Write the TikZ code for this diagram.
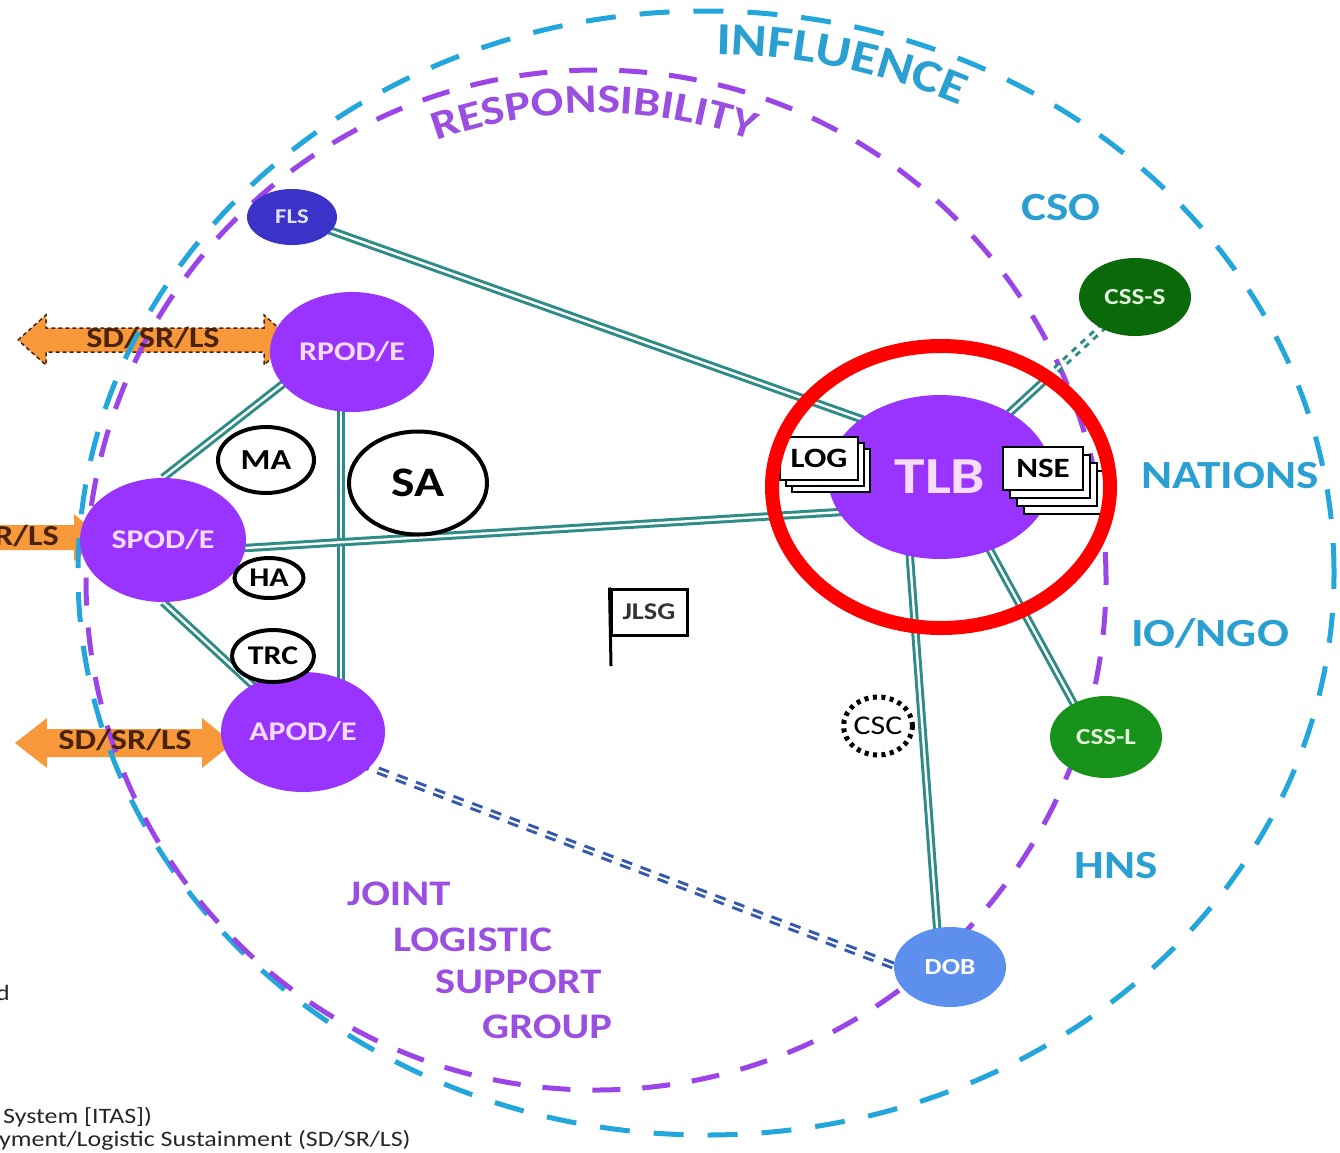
\documentclass[tikz,border=0pt]{standalone}
\usepackage{fontspec}
\setmainfont{Carlito}[FakeStretch=1.18]
\usetikzlibrary{shapes.geometric,decorations.text,calc}
\pgfdeclarelayer{rings}
\pgfdeclarelayer{edges}
\pgfsetlayers{rings,edges,main}
\newcommand{\myfs}[1]{\fontsize{#1}{#1}\selectfont}
\definecolor{cyanring}{HTML}{22A6DC}
\definecolor{purpring}{HTML}{9B45E8}
\definecolor{nodepurp}{HTML}{9933FF}
\definecolor{nodetext}{HTML}{F7DDFB}
\definecolor{teallink}{HTML}{2E8C86}
\definecolor{flsblue}{HTML}{3B32C8}
\definecolor{darkgreentwo}{HTML}{0A6A0A}
\definecolor{greentwo}{HTML}{17921A}
\definecolor{dobblue}{HTML}{5C8FEE}
\definecolor{orangetwo}{HTML}{F7983B}
\definecolor{browntwo}{HTML}{4A2208}
\definecolor{labelcyan}{HTML}{2A9FD2}
\definecolor{labelpurp}{HTML}{9B4FE0}
\definecolor{dashblue}{HTML}{3458B0}
\definecolor{sattext}{HTML}{E6F3DC}
\tikzset{
  hub/.style={ellipse, fill=nodepurp, text=nodetext, font=\myfs{27}\bfseries, inner sep=0pt, minimum width=164, minimum height=120},
  sat/.style={ellipse, fill=#1, text=sattext, font=\myfs{23}\bfseries, inner sep=0pt},
  ringed/.style={ellipse, draw=black, line width=4, fill=white, font=\myfs{29}\bfseries, inner sep=0pt},
  link/.style={draw=teallink, line width=3, double=white, double distance=2.4},
  card/.style={rectangle, draw=black, line width=2, fill=white, inner sep=0pt},
  arrowtext/.style={text=browntwo, font=\myfs{29}\bfseries, inner sep=0pt},
  regionlabel/.style={text=labelcyan, font=\myfs{40}\bfseries, inner sep=0pt},
  jlsgtext/.style={text=labelpurp, font=\myfs{36}\bfseries, inner sep=0pt, anchor=base west},
  sidetext/.style={text=black!85, font=\myfs{22}, inner sep=0pt, anchor=west}
}
\begin{document}
\begin{tikzpicture}[x=1pt,y=1pt]
\useasboundingbox (0,0) rectangle (1340,-1152);

% ---------- nodes ----------
\node[hub] (rpod) at (352,-352) {RPOD/E};
\node[hub, minimum width=166, minimum height=124] (spod) at (163,-540) {SPOD/E};
\node[hub] (apod) at (303,-732) {APOD/E};
\node[hub, minimum width=224, minimum height=164, font=\myfs{52}\bfseries] (tlb) at (940,-477) {TLB};
\node[sat=flsblue, minimum width=90, minimum height=56, font=\myfs{21}\bfseries, text=white!88!blue] (fls) at (292,-217) {FLS};
\node[sat=darkgreentwo, minimum width=112, minimum height=78] (csss) at (1135,-297) {CSS-S};
\node[sat=greentwo, minimum width=112, minimum height=82] (cssl) at (1106,-737) {CSS-L};
\node[sat=dobblue, minimum width=112, minimum height=80, text=white] (dob) at (950,-967) {DOB};

\node[ringed, minimum width=96, minimum height=66] (ma) at (266,-460) {MA};
\node[ringed, minimum width=138, minimum height=103, font=\myfs{42}\bfseries] (sa) at (418,-483) {SA};
\node[ringed, minimum width=69, minimum height=40, font=\myfs{27}\bfseries] (ha) at (269,-578) {HA};
\node[ringed, minimum width=82, minimum height=52, font=\myfs{27}\bfseries] (trc) at (273,-656) {TRC};
\node[ellipse, draw=black, line width=5, dash pattern=on 4pt off 4.5pt, minimum width=66, minimum height=58, inner sep=0pt, font=\myfs{27}] (csc) at (878,-726) {CSC};

\node[card, line width=3, minimum width=76, minimum height=46, font=\myfs{24}\bfseries, text=black!80] (jlsg) at (649,-612) {JLSG};
\coordinate (polefoot) at (611,-666);
\draw[line width=3] (jlsg.north west) -- (polefoot);

\node[card, minimum width=78, minimum height=43] (logb2) at (831,-470.5) {};
\node[card, minimum width=78, minimum height=43] (logb1) at (825,-464.5) {};
\node[card, minimum width=78, minimum height=43, font=\myfs{28}\bfseries] (log) at (819,-458.5) {LOG};

\node[card, minimum width=80, minimum height=43] (nseb3) at (1064,-492.5) {};
\node[card, minimum width=80, minimum height=43] (nseb2) at (1057,-484.5) {};
\node[card, minimum width=80, minimum height=43] (nseb1) at (1050,-476.5) {};
\node[card, minimum width=80, minimum height=43, font=\myfs{28}\bfseries] (nse) at (1043,-468.5) {NSE};

\node[ellipse, draw=red, line width=14, minimum width=338, minimum height=282, inner sep=0pt] (focus) at (941,-487) {};

% ---------- labels ----------
\node[regionlabel] (cso) at (1061,-208) {CSO};
\node[regionlabel] (nations) at (1230,-476) {NATIONS};
\node[regionlabel] (iongo) at (1210,-633) {IO/NGO};
\node[regionlabel] (hns) at (1116,-866) {HNS};

\node[jlsgtext] (j1) at (347,-905) {JOINT};
\node[jlsgtext] (j2) at (393,-951) {LOGISTIC};
\node[jlsgtext] (j3) at (435,-993) {SUPPORT};
\node[jlsgtext] (j4) at (482,-1038) {GROUP};

\node[arrowtext] (sdtop) at (153,-338) {SD/SR/LS};
\node[arrowtext, anchor=west] (sdmid) at (-6,-536) {R/LS};
\node[arrowtext] (sdbot) at (125,-740) {SD/SR/LS};

\node[sidetext] (sd1) at (-4,-993) {d};
\node[sidetext] (sd2) at (3,-1117) {System [ITAS])};
\node[sidetext] (sd3) at (-1,-1140) {yment/Logistic Sustainment (SD/SR/LS)};

% ---------- rings and arrows ----------
\begin{pgfonlayer}{rings}
\path[fill=orangetwo, draw=browntwo, line width=1.5, dash pattern=on 4pt off 3pt]
  (18,-340) -- (46,-315) -- (46,-328) -- (264,-328) -- (264,-315) -- (292,-340)
  -- (264,-365) -- (264,-352) -- (46,-352) -- (46,-365) -- cycle;
\path[fill=orangetwo] (-2,-525) -- (74,-525) -- (74,-514) -- (102,-538) -- (74,-561) -- (74,-550) -- (-2,-550) -- cycle;
\path[fill=orangetwo] (15,-743) -- (47,-718) -- (47,-729) -- (202,-729) -- (202,-718) -- (233,-743)
  -- (202,-768) -- (202,-757) -- (47,-757) -- (47,-768) -- cycle;

\draw[cyanring, line width=5, dash pattern=on 30pt off 24pt] (706,-573) ellipse[x radius=628, y radius=562];
\draw[purpring, line width=5, dash pattern=on 28pt off 22pt] (596,-580) circle[radius=510];

\path[decorate, decoration={text along path, text color=labelcyan, text align=left,
   text={|\myfs{46}\bfseries|INFLUENCE}}]
   (706,-573) ++(89:585 and 519) arc[start angle=89, end angle=20, x radius=585, y radius=519];
\path[decorate, decoration={text along path, text color=labelpurp, text align=left,
   text={|\myfs{41}\bfseries|RESPONSIBILITY}}]
   (596,-580) ++(110:467) arc[start angle=110, end angle=40, radius=467];
\end{pgfonlayer}

% ---------- connectors ----------
\begin{pgfonlayer}{edges}
\draw[link] (fls.center) -- ($(tlb.center)+(0,30)$);
\draw[link] ($(rpod.center)+(-28,0)$) -- (spod.north);
\draw[link] ($(rpod.center)+(-11,0)$) -- ($(apod.center)+(38,0)$);
\draw[link] ($(spod.center)+(0,-13)$) -- ($(tlb.center)+(0,-29)$);
\draw[link] (spod.south) -- (apod.center);
\coordinate (brk) at ($(tlb.center)!0.55!(csss.center)$);
\draw[link] (tlb.center) -- (brk);
\draw[link, dash pattern=on 6pt off 6pt] (brk) -- (csss.center);
\draw[link] ($(tlb.center)+(10,0)$) -- ($(cssl.center)+(-14,0)$);
\draw[link] ($(tlb.center)+(-36,0)$) -- ($(dob.center)+(-10,0)$);
\draw[link, draw=dashblue, line width=3, double distance=2, dash pattern=on 11pt off 9pt] ($(apod.center)+(0,-10)$) -- ($(dob.center)+(0,-20)$);
\end{pgfonlayer}
\end{tikzpicture}
\end{document}
